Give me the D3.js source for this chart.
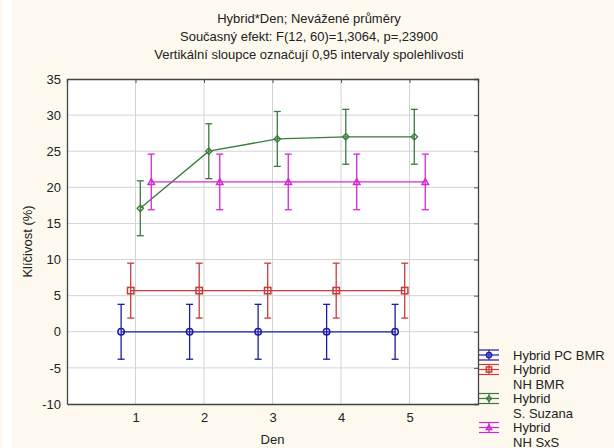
<!DOCTYPE html>
<html>
<head>
<meta charset="utf-8">
<script src="https://cdn.jsdelivr.net/npm/d3@7"></script>
<style>
  body { margin: 0; background: #fdf9ef; }
  svg { display: block; font-family: "Liberation Sans", Arial, sans-serif; }
</style>
</head>
<body>
<div id="chart"></div>
<script>
// days on the x axis
const days = [1, 2, 3, 4, 5];

// series names (legend lines), colours, markers and horizontal offsets
const seriesNames = [["Hybrid PC BMR"], ["Hybrid", "NH BMR"], ["Hybrid", "S. Suzana"], ["Hybrid", "NH SxS"]];
const seriesColors = ["#1c1ca8", "#c83c3c", "#3c7a3c", "#d428d4"];
const seriesMarkers = ["circle", "square", "diamond", "triangle"];
const seriesOffsets = [-0.21, -0.07, 0.07, 0.23];

// means per day and 0.95 confidence half-widths
const meansPcBmr = [0, 0, 0, 0, 0];
const meansNhBmr = [5.7, 5.7, 5.7, 5.7, 5.7];
const meansSuzana = [17.1, 25.0, 26.7, 27.0, 27.0];
const meansNhSxs = [20.75, 20.75, 20.75, 20.75, 20.75];
const ciHalf = [3.8, 3.8, 3.8, 3.85];

const yTicks = [-10, -5, 0, 5, 10, 15, 20, 25, 30, 35];

const titleLines = [
  "Hybrid*Den; Nevážené průměry",
  "Současný efekt: F(12, 60)=1,3064, p=,23900",
  "Vertikální sloupce označují 0,95 intervaly spolehlivosti"
];

const allMeans = [meansPcBmr, meansNhBmr, meansSuzana, meansNhSxs];

const width = 614, height = 448;
const margin = { top: 79, right: 136, bottom: 44, left: 67 };
const fontSize = 13;

const svg = d3.select("#chart").append("svg")
  .attr("width", width)
  .attr("height", height);

// page background with the thin white strip on the left
svg.append("rect").attr("width", width).attr("height", height).attr("fill", "#fdf9ef");
svg.append("rect").attr("x", 3).attr("width", 9).attr("height", height).attr("fill", "#ffffff");

const x = d3.scaleLinear().domain([0, 6]).range([margin.left, width - margin.right]);
const y = d3.scaleLinear().domain([-10, 35]).range([height - margin.bottom, margin.top]);

// plot area
svg.append("rect")
  .attr("x", x(0)).attr("y", y(35))
  .attr("width", x(6) - x(0)).attr("height", y(-10) - y(35))
  .attr("fill", "#ffffff");

// grid lines
svg.append("g").selectAll("line").data(yTicks.slice(1, -1)).join("line")
  .attr("x1", x(0)).attr("x2", x(6))
  .attr("y1", d => y(d)).attr("y2", d => y(d))
  .attr("stroke", "#d4d4d4").attr("stroke-width", 1);
svg.append("g").selectAll("line").data(days).join("line")
  .attr("x1", d => x(d)).attr("x2", d => x(d))
  .attr("y1", y(35)).attr("y2", y(-10))
  .attr("stroke", "#d4d4d4").attr("stroke-width", 1);

// axes (plain hyphen for negatives, integer day labels)
const yAxis = svg.append("g")
  .attr("transform", `translate(${x(0)},0)`)
  .call(d3.axisLeft(y).tickValues(yTicks).tickSize(0).tickPadding(6).tickFormat(d => String(d)));
const yAxisRight = svg.append("g")
  .attr("transform", `translate(${x(6)},0)`)
  .call(d3.axisLeft(y).tickValues(yTicks).tickSize(4).tickFormat(""));
const xAxis = svg.append("g")
  .attr("transform", `translate(0,${y(-10)})`)
  .call(d3.axisBottom(x).tickValues(days).tickSize(0).tickPadding(9).tickFormat(d => String(d)));
const xAxisTop = svg.append("g")
  .attr("transform", `translate(0,${y(35)})`)
  .call(d3.axisBottom(x).tickValues(days).tickSize(4).tickFormat(""));

[yAxis, yAxisRight, xAxis, xAxisTop].forEach(a => {
  a.select(".domain").attr("stroke", "#444").attr("stroke-width", 1.3);
  a.selectAll(".tick line").attr("stroke", "#555");
  a.selectAll("text").attr("font-size", fontSize).attr("fill", "#222")
    .style("font-family", "'Liberation Sans', Arial, sans-serif");
});

// titles
svg.append("g").selectAll("text").data(titleLines).join("text")
  .attr("x", 309)
  .attr("y", (d, i) => 23 + i * 18)
  .attr("text-anchor", "middle")
  .attr("font-size", fontSize)
  .attr("fill", "#222")
  .text(d => d);

// axis labels
svg.append("text")
  .attr("transform", `translate(32, ${(y(35) + y(-10)) / 2}) rotate(-90)`)
  .attr("text-anchor", "middle")
  .attr("font-size", fontSize).attr("fill", "#222")
  .text("Klíčivost (%)");
svg.append("text")
  .attr("x", x(3)).attr("y", 444)
  .attr("text-anchor", "middle")
  .attr("font-size", fontSize).attr("fill", "#222")
  .text("Den");

// marker drawing
function drawMarker(g, type, color, cx, cy, size) {
  const s = size;
  if (type === "circle") {
    g.append("circle").attr("cx", cx).attr("cy", cy).attr("r", s)
      .attr("fill", "none").attr("stroke", color).attr("stroke-width", 1.5);
  } else if (type === "square") {
    g.append("rect").attr("x", cx - s).attr("y", cy - s).attr("width", 2 * s).attr("height", 2 * s)
      .attr("fill", "none").attr("stroke", color).attr("stroke-width", 1.5);
  } else if (type === "diamond") {
    g.append("path").attr("d", `M${cx},${cy - s}L${cx + s},${cy}L${cx},${cy + s}L${cx - s},${cy}Z`)
      .attr("fill", "none").attr("stroke", color).attr("stroke-width", 1.3);
  } else {
    g.append("path").attr("d", `M${cx},${cy - s}L${cx + s},${cy + s * 0.8}L${cx - s},${cy + s * 0.8}Z`)
      .attr("fill", "none").attr("stroke", color).attr("stroke-width", 1.5);
  }
}

const line = d3.line()
  .x(d => x(d.day))
  .y(d => y(d.mean));

allMeans.forEach((means, si) => {
  const color = seriesColors[si];
  const pts = days.map((d, i) => ({ day: d + seriesOffsets[si], mean: means[i] }));
  const g = svg.append("g");

  g.append("path").datum(pts).attr("d", line)
    .attr("fill", "none").attr("stroke", color).attr("stroke-width", 1.3);

  pts.forEach(p => {
    const lo = y(p.mean - ciHalf[si]), hi = y(p.mean + ciHalf[si]), cx = x(p.day);
    g.append("line").attr("x1", cx).attr("x2", cx).attr("y1", lo).attr("y2", hi)
      .attr("stroke", color).attr("stroke-width", 1.3);
    [lo, hi].forEach(yy => g.append("line")
      .attr("x1", cx - 3.5).attr("x2", cx + 3.5).attr("y1", yy).attr("y2", yy)
      .attr("stroke", color).attr("stroke-width", 1.3));
    drawMarker(g, seriesMarkers[si], color, cx, y(p.mean), 3.2);
  });
});

// legend
const legend = svg.append("g");
let row = 0;
seriesNames.forEach((names, si) => {
  const color = seriesColors[si];
  const cy = 355 + row * 14.5;
  const lx = 489;
  [-5, 0, 5].forEach(dy => legend.append("line")
    .attr("x1", lx - 10).attr("x2", lx + 10).attr("y1", cy + dy).attr("y2", cy + dy)
    .attr("stroke", color).attr("stroke-width", 1.2));
  legend.append("line").attr("x1", lx).attr("x2", lx).attr("y1", cy - 5).attr("y2", cy + 5)
    .attr("stroke", color).attr("stroke-width", 1.2);
  drawMarker(legend, seriesMarkers[si], color, lx, cy, 2.6);
  names.forEach((n, k) => {
    legend.append("text")
      .attr("x", 513).attr("y", cy + k * 14.5 + 4.5)
      .attr("font-size", fontSize).attr("fill", "#222")
      .text(n);
  });
  row += names.length;
});
</script>
</body>
</html>
